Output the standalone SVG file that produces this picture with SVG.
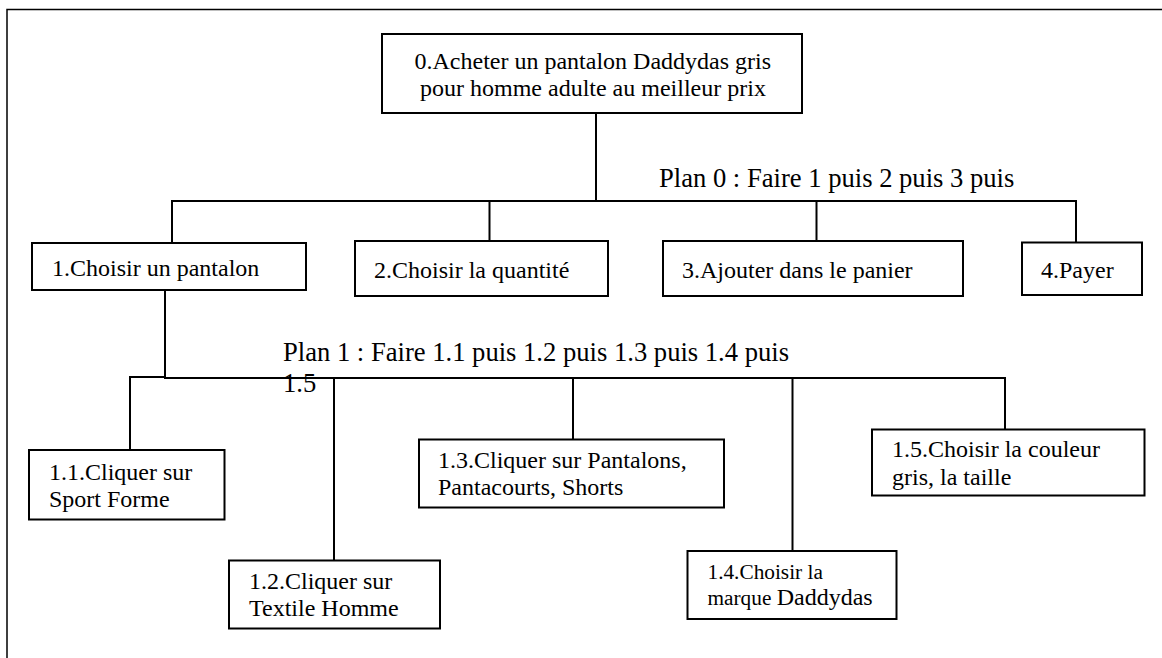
<svg xmlns="http://www.w3.org/2000/svg" width="1162" height="658" viewBox="0 0 1162 658">
  <style>
    .box { fill: #ffffff; stroke: #000000; stroke-width: 2; }
    .conn { fill: none; stroke: #000000; stroke-width: 2; }
    .frame { fill: none; stroke: #000000; stroke-width: 1.5; }
    .t { font-family: "Liberation Serif", "Times New Roman", serif; font-size: 24px; fill: #000000; }
    .plan { font-family: "Liberation Serif", "Times New Roman", serif; font-size: 26.6px; fill: #000000; }
    .small { font-size: 21.3px; }
  </style>
  <rect x="0" y="0" width="1162" height="658" fill="#ffffff"/>
  <path class="frame" d="M7,658 V9.5 H1162"/>

  <g id="connectors">
    <path class="conn" d="M596,113 V201"/>
    <path class="conn" d="M172,242 V201 H1076 V242"/>
    <path class="conn" d="M489.5,201 V241"/>
    <path class="conn" d="M816.5,201 V241"/>
    <path class="conn" d="M165,290 V378 H1005 V429"/>
    <path class="conn" d="M165,377 H130 V450"/>
    <path class="conn" d="M334,378 V560"/>
    <path class="conn" d="M573,378 V439"/>
    <path class="conn" d="M792.5,378 V551"/>
  </g>

  <g id="plan0">
    <text class="plan" x="659" y="187">Plan 0 : Faire 1 puis 2 puis 3 puis</text>
  </g>
  <g id="plan1">
    <text class="plan" x="283" y="361">Plan 1 : Faire 1.1 puis 1.2 puis 1.3 puis 1.4 puis</text>
    <text class="plan" x="283" y="392">1.5</text>
  </g>

  <g id="node0">
    <rect class="box" x="382" y="34" width="420" height="79"/>
    <text class="t" x="414.5" y="69">0.Acheter un pantalon Daddydas gris</text>
    <text class="t" x="420" y="96">pour homme adulte au meilleur prix</text>
  </g>
  <g id="node1">
    <rect class="box" x="32" y="243" width="274" height="47"/>
    <text class="t" x="52" y="276">1.Choisir un pantalon</text>
  </g>
  <g id="node2">
    <rect class="box" x="355" y="241" width="253" height="55"/>
    <text class="t" x="374" y="278">2.Choisir la quantité</text>
  </g>
  <g id="node3">
    <rect class="box" x="663" y="241" width="300" height="55"/>
    <text class="t" x="682" y="278">3.Ajouter dans le panier</text>
  </g>
  <g id="node4">
    <rect class="box" x="1022" y="242.5" width="120" height="52.5"/>
    <text class="t" x="1041" y="278">4.Payer</text>
  </g>
  <g id="node1_1">
    <rect class="box" x="29" y="450" width="195.5" height="69.5"/>
    <text class="t" x="49" y="480">1.1.Cliquer sur</text>
    <text class="t" x="49" y="507">Sport Forme</text>
  </g>
  <g id="node1_2">
    <rect class="box" x="229" y="560.5" width="211" height="68"/>
    <text class="t" x="249" y="589">1.2.Cliquer sur</text>
    <text class="t" x="249" y="616">Textile Homme</text>
  </g>
  <g id="node1_3">
    <rect class="box" x="419" y="439.5" width="305" height="68"/>
    <text class="t" x="438" y="468">1.3.Cliquer sur Pantalons,</text>
    <text class="t" x="438" y="495">Pantacourts, Shorts</text>
  </g>
  <g id="node1_4">
    <rect class="box" x="687.5" y="551" width="209" height="68"/>
    <text class="t small" x="707.5" y="578.5">1.4.Choisir la</text>
    <text class="t" x="707.5" y="604.5"><tspan class="small">marque </tspan>Daddydas</text>
  </g>
  <g id="node1_5">
    <rect class="box" x="872" y="429.5" width="272.5" height="66"/>
    <text class="t" x="892" y="457">1.5.Choisir la couleur</text>
    <text class="t" x="892" y="485">gris, la taille</text>
  </g>
</svg>
